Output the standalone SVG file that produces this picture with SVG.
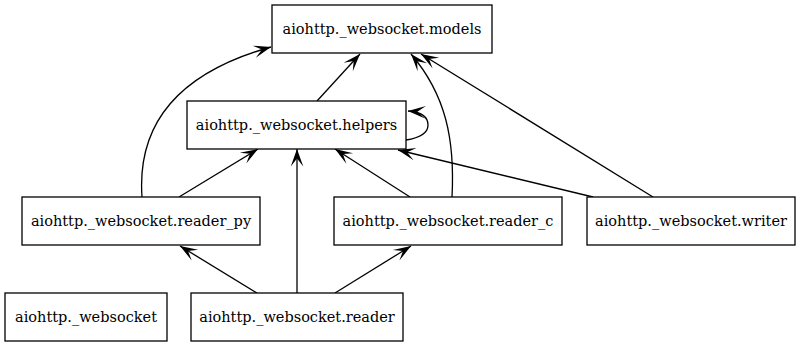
<svg xmlns="http://www.w3.org/2000/svg" width="801" height="347" viewBox="0 0 801 347">
  <defs>
    <style>
      .node rect { fill: #ffffff; stroke: #000000; stroke-width: 1.3; }
      .edges path { fill: none; stroke: #000000; stroke-width: 1.3; marker-end: url(#vee); }
    </style>
    <marker id="vee" markerUnits="userSpaceOnUse" markerWidth="20" markerHeight="20" viewBox="-15 -7 16 14" refX="0" refY="0" orient="auto">
      <path d="M0,0 L-14,-5 L-7.5,0 L-14,5 Z" fill="#000000"/>
    </marker>
  </defs>
  <rect width="801" height="347" fill="#ffffff"/>

  <g class="edges">
    <!-- helpers -> models -->
    <path d="M317,101 L360,54"/>
    <!-- reader_py -> models -->
    <path d="M142,197 C138,140 160,78 271,47"/>
    <!-- reader_c -> models -->
    <path d="M452,197 C455,140 446,95 411,54"/>
    <!-- writer -> models -->
    <path d="M653,197 L421,54"/>
    <!-- helpers -> helpers -->
    <path d="M406,140 C419,138 428,134 428,125 C428,116 421,112 408,111"/>
    <!-- reader_py -> helpers -->
    <path d="M179,197 L258,149"/>
    <!-- reader_c -> helpers -->
    <path d="M410,197 L335,149"/>
    <!-- writer -> helpers -->
    <path d="M593,197 L398,150"/>
    <!-- reader -> helpers -->
    <path d="M297,293 L297,149"/>
    <!-- reader -> reader_py -->
    <path d="M257,293 L180,246"/>
    <!-- reader -> reader_c -->
    <path d="M335,293 L411,246"/>
  </g>

  <g id="models" class="node">
    <rect x="272" y="5" width="220" height="48"/>
    <text x="382" y="34" font-family="DejaVu Serif, Liberation Serif, serif" font-size="14.5" text-anchor="middle">aiohttp._websocket.models</text>
  </g>
  <g id="helpers" class="node">
    <rect x="187" y="101" width="219" height="48"/>
    <text x="296.5" y="130" font-family="DejaVu Serif, Liberation Serif, serif" font-size="14.5" text-anchor="middle">aiohttp._websocket.helpers</text>
  </g>
  <g id="reader_py" class="node">
    <rect x="22" y="197" width="238" height="48"/>
    <text x="141" y="226" font-family="DejaVu Serif, Liberation Serif, serif" font-size="14.5" text-anchor="middle">aiohttp._websocket.reader_py</text>
  </g>
  <g id="reader_c" class="node">
    <rect x="334" y="197" width="228" height="48"/>
    <text x="448" y="226" font-family="DejaVu Serif, Liberation Serif, serif" font-size="14.5" text-anchor="middle">aiohttp._websocket.reader_c</text>
  </g>
  <g id="writer" class="node">
    <rect x="587" y="197" width="208" height="48"/>
    <text x="691" y="226" font-family="DejaVu Serif, Liberation Serif, serif" font-size="14.5" text-anchor="middle">aiohttp._websocket.writer</text>
  </g>
  <g id="websocket" class="node">
    <rect x="5" y="293" width="162" height="48"/>
    <text x="86" y="322" font-family="DejaVu Serif, Liberation Serif, serif" font-size="14.5" text-anchor="middle">aiohttp._websocket</text>
  </g>
  <g id="reader" class="node">
    <rect x="191" y="293" width="212" height="48"/>
    <text x="297" y="322" font-family="DejaVu Serif, Liberation Serif, serif" font-size="14.5" text-anchor="middle">aiohttp._websocket.reader</text>
  </g>
</svg>
